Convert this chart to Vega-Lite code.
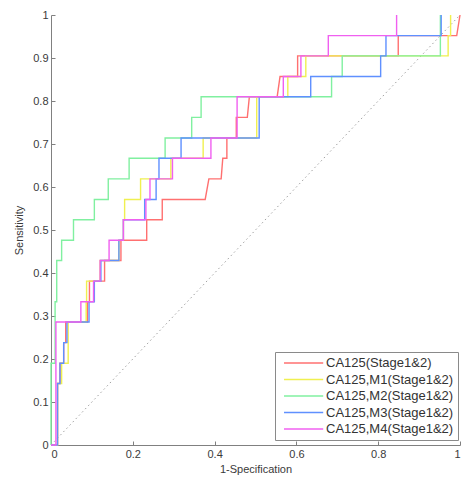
{
  "$schema": "https://vega.github.io/schema/vega-lite/v6.json",
  "width": 409,
  "height": 430,
  "autosize": "none",
  "padding": {"left": 51, "top": 15, "right": 4, "bottom": 37},
  "config": {
    "view": {"stroke": null},
    "font": "Liberation Sans",
    "axis": {
      "domainColor": "#808080",
      "tickColor": "#808080",
      "tickSize": -4,
      "labelPadding": 7,
      "grid": false,
      "labelFont": "Liberation Sans",
      "labelFontSize": 11,
      "labelColor": "#3a3a3a",
      "titleFont": "Liberation Sans",
      "titleFontSize": 11,
      "titleFontWeight": "normal",
      "titleColor": "#3a3a3a"
    }
  },
  "datasets": {
    "diag": [{"x": 0, "y": 0}, {"x": 1, "y": 1}],
    "roc": [
      {"s": "CA125(Stage1&2)", "i": 1, "x": 0, "y": 0},
      {"s": "CA125(Stage1&2)", "i": 2, "x": 0.016, "y": 0},
      {"s": "CA125(Stage1&2)", "i": 3, "x": 0.016, "y": 0.143},
      {"s": "CA125(Stage1&2)", "i": 4, "x": 0.022, "y": 0.143},
      {"s": "CA125(Stage1&2)", "i": 5, "x": 0.022, "y": 0.19},
      {"s": "CA125(Stage1&2)", "i": 6, "x": 0.031, "y": 0.19},
      {"s": "CA125(Stage1&2)", "i": 7, "x": 0.031, "y": 0.238},
      {"s": "CA125(Stage1&2)", "i": 8, "x": 0.036, "y": 0.238},
      {"s": "CA125(Stage1&2)", "i": 9, "x": 0.036, "y": 0.286},
      {"s": "CA125(Stage1&2)", "i": 10, "x": 0.089, "y": 0.286},
      {"s": "CA125(Stage1&2)", "i": 11, "x": 0.089, "y": 0.333},
      {"s": "CA125(Stage1&2)", "i": 12, "x": 0.094, "y": 0.333},
      {"s": "CA125(Stage1&2)", "i": 13, "x": 0.094, "y": 0.381},
      {"s": "CA125(Stage1&2)", "i": 14, "x": 0.131, "y": 0.381},
      {"s": "CA125(Stage1&2)", "i": 15, "x": 0.131, "y": 0.429},
      {"s": "CA125(Stage1&2)", "i": 16, "x": 0.171, "y": 0.429},
      {"s": "CA125(Stage1&2)", "i": 17, "x": 0.171, "y": 0.476},
      {"s": "CA125(Stage1&2)", "i": 18, "x": 0.234, "y": 0.476},
      {"s": "CA125(Stage1&2)", "i": 19, "x": 0.234, "y": 0.524},
      {"s": "CA125(Stage1&2)", "i": 20, "x": 0.272, "y": 0.524},
      {"s": "CA125(Stage1&2)", "i": 21, "x": 0.272, "y": 0.571},
      {"s": "CA125(Stage1&2)", "i": 22, "x": 0.377, "y": 0.571},
      {"s": "CA125(Stage1&2)", "i": 23, "x": 0.386, "y": 0.619},
      {"s": "CA125(Stage1&2)", "i": 24, "x": 0.416, "y": 0.619},
      {"s": "CA125(Stage1&2)", "i": 25, "x": 0.42, "y": 0.667},
      {"s": "CA125(Stage1&2)", "i": 26, "x": 0.43, "y": 0.667},
      {"s": "CA125(Stage1&2)", "i": 27, "x": 0.43, "y": 0.714},
      {"s": "CA125(Stage1&2)", "i": 28, "x": 0.453, "y": 0.714},
      {"s": "CA125(Stage1&2)", "i": 29, "x": 0.453, "y": 0.762},
      {"s": "CA125(Stage1&2)", "i": 30, "x": 0.48, "y": 0.762},
      {"s": "CA125(Stage1&2)", "i": 31, "x": 0.485, "y": 0.81},
      {"s": "CA125(Stage1&2)", "i": 32, "x": 0.553, "y": 0.81},
      {"s": "CA125(Stage1&2)", "i": 33, "x": 0.56, "y": 0.857},
      {"s": "CA125(Stage1&2)", "i": 34, "x": 0.603, "y": 0.857},
      {"s": "CA125(Stage1&2)", "i": 35, "x": 0.603, "y": 0.905},
      {"s": "CA125(Stage1&2)", "i": 36, "x": 0.849, "y": 0.905},
      {"s": "CA125(Stage1&2)", "i": 37, "x": 0.849, "y": 0.952},
      {"s": "CA125(Stage1&2)", "i": 38, "x": 0.992, "y": 0.952},
      {"s": "CA125(Stage1&2)", "i": 39, "x": 1, "y": 1},

      {"s": "CA125,M1(Stage1&2)", "i": 1, "x": 0, "y": 0},
      {"s": "CA125,M1(Stage1&2)", "i": 2, "x": 0.016, "y": 0},
      {"s": "CA125,M1(Stage1&2)", "i": 3, "x": 0.016, "y": 0.143},
      {"s": "CA125,M1(Stage1&2)", "i": 4, "x": 0.026, "y": 0.143},
      {"s": "CA125,M1(Stage1&2)", "i": 5, "x": 0.026, "y": 0.19},
      {"s": "CA125,M1(Stage1&2)", "i": 6, "x": 0.042, "y": 0.19},
      {"s": "CA125,M1(Stage1&2)", "i": 7, "x": 0.042, "y": 0.286},
      {"s": "CA125,M1(Stage1&2)", "i": 8, "x": 0.086, "y": 0.286},
      {"s": "CA125,M1(Stage1&2)", "i": 9, "x": 0.086, "y": 0.333},
      {"s": "CA125,M1(Stage1&2)", "i": 10, "x": 0.087, "y": 0.333},
      {"s": "CA125,M1(Stage1&2)", "i": 11, "x": 0.087, "y": 0.381},
      {"s": "CA125,M1(Stage1&2)", "i": 12, "x": 0.12, "y": 0.381},
      {"s": "CA125,M1(Stage1&2)", "i": 13, "x": 0.12, "y": 0.429},
      {"s": "CA125,M1(Stage1&2)", "i": 14, "x": 0.166, "y": 0.429},
      {"s": "CA125,M1(Stage1&2)", "i": 15, "x": 0.166, "y": 0.476},
      {"s": "CA125,M1(Stage1&2)", "i": 16, "x": 0.177, "y": 0.476},
      {"s": "CA125,M1(Stage1&2)", "i": 17, "x": 0.177, "y": 0.524},
      {"s": "CA125,M1(Stage1&2)", "i": 18, "x": 0.18, "y": 0.524},
      {"s": "CA125,M1(Stage1&2)", "i": 19, "x": 0.18, "y": 0.571},
      {"s": "CA125,M1(Stage1&2)", "i": 20, "x": 0.219, "y": 0.571},
      {"s": "CA125,M1(Stage1&2)", "i": 21, "x": 0.219, "y": 0.619},
      {"s": "CA125,M1(Stage1&2)", "i": 22, "x": 0.293, "y": 0.619},
      {"s": "CA125,M1(Stage1&2)", "i": 23, "x": 0.293, "y": 0.667},
      {"s": "CA125,M1(Stage1&2)", "i": 24, "x": 0.372, "y": 0.667},
      {"s": "CA125,M1(Stage1&2)", "i": 25, "x": 0.372, "y": 0.714},
      {"s": "CA125,M1(Stage1&2)", "i": 26, "x": 0.503, "y": 0.714},
      {"s": "CA125,M1(Stage1&2)", "i": 27, "x": 0.503, "y": 0.81},
      {"s": "CA125,M1(Stage1&2)", "i": 28, "x": 0.579, "y": 0.81},
      {"s": "CA125,M1(Stage1&2)", "i": 29, "x": 0.579, "y": 0.857},
      {"s": "CA125,M1(Stage1&2)", "i": 30, "x": 0.623, "y": 0.857},
      {"s": "CA125,M1(Stage1&2)", "i": 31, "x": 0.623, "y": 0.905},
      {"s": "CA125,M1(Stage1&2)", "i": 32, "x": 0.971, "y": 0.905},
      {"s": "CA125,M1(Stage1&2)", "i": 33, "x": 0.971, "y": 0.952},
      {"s": "CA125,M1(Stage1&2)", "i": 34, "x": 0.977, "y": 0.952},
      {"s": "CA125,M1(Stage1&2)", "i": 35, "x": 0.977, "y": 1},

      {"s": "CA125,M2(Stage1&2)", "i": 1, "x": 0, "y": 0},
      {"s": "CA125,M2(Stage1&2)", "i": 2, "x": 0, "y": 0.19},
      {"s": "CA125,M2(Stage1&2)", "i": 3, "x": 0.01, "y": 0.19},
      {"s": "CA125,M2(Stage1&2)", "i": 4, "x": 0.01, "y": 0.333},
      {"s": "CA125,M2(Stage1&2)", "i": 5, "x": 0.014, "y": 0.333},
      {"s": "CA125,M2(Stage1&2)", "i": 6, "x": 0.014, "y": 0.429},
      {"s": "CA125,M2(Stage1&2)", "i": 7, "x": 0.026, "y": 0.429},
      {"s": "CA125,M2(Stage1&2)", "i": 8, "x": 0.026, "y": 0.476},
      {"s": "CA125,M2(Stage1&2)", "i": 9, "x": 0.055, "y": 0.476},
      {"s": "CA125,M2(Stage1&2)", "i": 10, "x": 0.055, "y": 0.524},
      {"s": "CA125,M2(Stage1&2)", "i": 11, "x": 0.106, "y": 0.524},
      {"s": "CA125,M2(Stage1&2)", "i": 12, "x": 0.106, "y": 0.571},
      {"s": "CA125,M2(Stage1&2)", "i": 13, "x": 0.14, "y": 0.571},
      {"s": "CA125,M2(Stage1&2)", "i": 14, "x": 0.14, "y": 0.619},
      {"s": "CA125,M2(Stage1&2)", "i": 15, "x": 0.191, "y": 0.619},
      {"s": "CA125,M2(Stage1&2)", "i": 16, "x": 0.191, "y": 0.667},
      {"s": "CA125,M2(Stage1&2)", "i": 17, "x": 0.279, "y": 0.667},
      {"s": "CA125,M2(Stage1&2)", "i": 18, "x": 0.279, "y": 0.714},
      {"s": "CA125,M2(Stage1&2)", "i": 19, "x": 0.344, "y": 0.714},
      {"s": "CA125,M2(Stage1&2)", "i": 20, "x": 0.344, "y": 0.762},
      {"s": "CA125,M2(Stage1&2)", "i": 21, "x": 0.367, "y": 0.762},
      {"s": "CA125,M2(Stage1&2)", "i": 22, "x": 0.367, "y": 0.81},
      {"s": "CA125,M2(Stage1&2)", "i": 23, "x": 0.686, "y": 0.81},
      {"s": "CA125,M2(Stage1&2)", "i": 24, "x": 0.686, "y": 0.857},
      {"s": "CA125,M2(Stage1&2)", "i": 25, "x": 0.712, "y": 0.857},
      {"s": "CA125,M2(Stage1&2)", "i": 26, "x": 0.712, "y": 0.905},
      {"s": "CA125,M2(Stage1&2)", "i": 27, "x": 0.952, "y": 0.905},
      {"s": "CA125,M2(Stage1&2)", "i": 28, "x": 0.952, "y": 1},

      {"s": "CA125,M3(Stage1&2)", "i": 1, "x": 0, "y": 0},
      {"s": "CA125,M3(Stage1&2)", "i": 2, "x": 0.016, "y": 0},
      {"s": "CA125,M3(Stage1&2)", "i": 3, "x": 0.016, "y": 0.143},
      {"s": "CA125,M3(Stage1&2)", "i": 4, "x": 0.022, "y": 0.143},
      {"s": "CA125,M3(Stage1&2)", "i": 5, "x": 0.022, "y": 0.19},
      {"s": "CA125,M3(Stage1&2)", "i": 6, "x": 0.031, "y": 0.19},
      {"s": "CA125,M3(Stage1&2)", "i": 7, "x": 0.031, "y": 0.238},
      {"s": "CA125,M3(Stage1&2)", "i": 8, "x": 0.039, "y": 0.238},
      {"s": "CA125,M3(Stage1&2)", "i": 9, "x": 0.039, "y": 0.286},
      {"s": "CA125,M3(Stage1&2)", "i": 10, "x": 0.093, "y": 0.286},
      {"s": "CA125,M3(Stage1&2)", "i": 11, "x": 0.093, "y": 0.333},
      {"s": "CA125,M3(Stage1&2)", "i": 12, "x": 0.106, "y": 0.333},
      {"s": "CA125,M3(Stage1&2)", "i": 13, "x": 0.106, "y": 0.381},
      {"s": "CA125,M3(Stage1&2)", "i": 14, "x": 0.122, "y": 0.381},
      {"s": "CA125,M3(Stage1&2)", "i": 15, "x": 0.122, "y": 0.429},
      {"s": "CA125,M3(Stage1&2)", "i": 16, "x": 0.166, "y": 0.429},
      {"s": "CA125,M3(Stage1&2)", "i": 17, "x": 0.166, "y": 0.476},
      {"s": "CA125,M3(Stage1&2)", "i": 18, "x": 0.177, "y": 0.476},
      {"s": "CA125,M3(Stage1&2)", "i": 19, "x": 0.177, "y": 0.524},
      {"s": "CA125,M3(Stage1&2)", "i": 20, "x": 0.229, "y": 0.524},
      {"s": "CA125,M3(Stage1&2)", "i": 21, "x": 0.229, "y": 0.571},
      {"s": "CA125,M3(Stage1&2)", "i": 22, "x": 0.257, "y": 0.571},
      {"s": "CA125,M3(Stage1&2)", "i": 23, "x": 0.257, "y": 0.619},
      {"s": "CA125,M3(Stage1&2)", "i": 24, "x": 0.264, "y": 0.619},
      {"s": "CA125,M3(Stage1&2)", "i": 25, "x": 0.264, "y": 0.667},
      {"s": "CA125,M3(Stage1&2)", "i": 26, "x": 0.318, "y": 0.667},
      {"s": "CA125,M3(Stage1&2)", "i": 27, "x": 0.318, "y": 0.714},
      {"s": "CA125,M3(Stage1&2)", "i": 28, "x": 0.509, "y": 0.714},
      {"s": "CA125,M3(Stage1&2)", "i": 29, "x": 0.509, "y": 0.81},
      {"s": "CA125,M3(Stage1&2)", "i": 30, "x": 0.635, "y": 0.81},
      {"s": "CA125,M3(Stage1&2)", "i": 31, "x": 0.635, "y": 0.857},
      {"s": "CA125,M3(Stage1&2)", "i": 32, "x": 0.806, "y": 0.857},
      {"s": "CA125,M3(Stage1&2)", "i": 33, "x": 0.806, "y": 0.905},
      {"s": "CA125,M3(Stage1&2)", "i": 34, "x": 0.819, "y": 0.905},
      {"s": "CA125,M3(Stage1&2)", "i": 35, "x": 0.819, "y": 0.952},
      {"s": "CA125,M3(Stage1&2)", "i": 36, "x": 0.954, "y": 0.952},
      {"s": "CA125,M3(Stage1&2)", "i": 37, "x": 0.954, "y": 1},

      {"s": "CA125,M4(Stage1&2)", "i": 1, "x": 0, "y": 0},
      {"s": "CA125,M4(Stage1&2)", "i": 2, "x": 0.012, "y": 0},
      {"s": "CA125,M4(Stage1&2)", "i": 3, "x": 0.012, "y": 0.286},
      {"s": "CA125,M4(Stage1&2)", "i": 4, "x": 0.073, "y": 0.286},
      {"s": "CA125,M4(Stage1&2)", "i": 5, "x": 0.073, "y": 0.333},
      {"s": "CA125,M4(Stage1&2)", "i": 6, "x": 0.104, "y": 0.333},
      {"s": "CA125,M4(Stage1&2)", "i": 7, "x": 0.104, "y": 0.381},
      {"s": "CA125,M4(Stage1&2)", "i": 8, "x": 0.12, "y": 0.381},
      {"s": "CA125,M4(Stage1&2)", "i": 9, "x": 0.12, "y": 0.429},
      {"s": "CA125,M4(Stage1&2)", "i": 10, "x": 0.142, "y": 0.429},
      {"s": "CA125,M4(Stage1&2)", "i": 11, "x": 0.142, "y": 0.476},
      {"s": "CA125,M4(Stage1&2)", "i": 12, "x": 0.177, "y": 0.476},
      {"s": "CA125,M4(Stage1&2)", "i": 13, "x": 0.177, "y": 0.524},
      {"s": "CA125,M4(Stage1&2)", "i": 14, "x": 0.232, "y": 0.524},
      {"s": "CA125,M4(Stage1&2)", "i": 15, "x": 0.232, "y": 0.571},
      {"s": "CA125,M4(Stage1&2)", "i": 16, "x": 0.242, "y": 0.571},
      {"s": "CA125,M4(Stage1&2)", "i": 17, "x": 0.242, "y": 0.619},
      {"s": "CA125,M4(Stage1&2)", "i": 18, "x": 0.297, "y": 0.619},
      {"s": "CA125,M4(Stage1&2)", "i": 19, "x": 0.297, "y": 0.667},
      {"s": "CA125,M4(Stage1&2)", "i": 20, "x": 0.391, "y": 0.667},
      {"s": "CA125,M4(Stage1&2)", "i": 21, "x": 0.391, "y": 0.714},
      {"s": "CA125,M4(Stage1&2)", "i": 22, "x": 0.455, "y": 0.714},
      {"s": "CA125,M4(Stage1&2)", "i": 23, "x": 0.455, "y": 0.81},
      {"s": "CA125,M4(Stage1&2)", "i": 24, "x": 0.568, "y": 0.81},
      {"s": "CA125,M4(Stage1&2)", "i": 25, "x": 0.568, "y": 0.857},
      {"s": "CA125,M4(Stage1&2)", "i": 26, "x": 0.611, "y": 0.857},
      {"s": "CA125,M4(Stage1&2)", "i": 27, "x": 0.611, "y": 0.905},
      {"s": "CA125,M4(Stage1&2)", "i": 28, "x": 0.678, "y": 0.905},
      {"s": "CA125,M4(Stage1&2)", "i": 29, "x": 0.678, "y": 0.952},
      {"s": "CA125,M4(Stage1&2)", "i": 30, "x": 0.845, "y": 0.952},
      {"s": "CA125,M4(Stage1&2)", "i": 31, "x": 0.845, "y": 1}
    ]
  },
  "layer": [
    {
      "data": {"name": "diag"},
      "mark": {"type": "line", "color": "#a0a0a0", "strokeWidth": 1, "strokeDash": [1.5, 3]},
      "encoding": {
        "x": {"field": "x", "type": "quantitative"},
        "y": {"field": "y", "type": "quantitative"}
      }
    },
    {
      "data": {"name": "roc"},
      "mark": {"type": "line", "strokeWidth": 1.4, "interpolate": "linear"},
      "encoding": {
        "x": {
          "field": "x", "type": "quantitative",
          "scale": {"domain": [0, 1], "nice": false, "zero": false},
          "axis": {"title": "1-Specification", "values": [0, 0.2, 0.4, 0.6, 0.8, 1], "format": "~g", "titlePadding": 4}
        },
        "y": {
          "field": "y", "type": "quantitative",
          "scale": {"domain": [0, 1], "nice": false, "zero": false},
          "axis": {"title": "Sensitivity", "values": [0, 0.1, 0.2, 0.3, 0.4, 0.5, 0.6, 0.7, 0.8, 0.9, 1], "format": "~g", "titlePadding": 8}
        },
        "order": {"field": "i", "type": "quantitative"},
        "color": {
          "field": "s", "type": "nominal",
          "scale": {
            "domain": ["CA125(Stage1&2)", "CA125,M1(Stage1&2)", "CA125,M2(Stage1&2)", "CA125,M3(Stage1&2)", "CA125,M4(Stage1&2)"],
            "range": ["#ff7070", "#f0f050", "#80f0a0", "#5f90ff", "#f060f0"]
          },
          "legend": {
            "title": null,
            "orient": "none",
            "legendX": 224,
            "legendY": 337,
            "padding": 4,
            "strokeColor": "#8a8a8a",
            "fillColor": "#ffffff",
            "symbolType": "M-0.33,0H6.2",
            "symbolSize": 144,
            "symbolStrokeWidth": 1.5,
            "labelFont": "Liberation Sans",
            "labelFontSize": 13,
            "labelColor": "#333333",
            "labelOffset": 33,
            "rowPadding": 2.5
          }
        }
      }
    }
  ]
}
